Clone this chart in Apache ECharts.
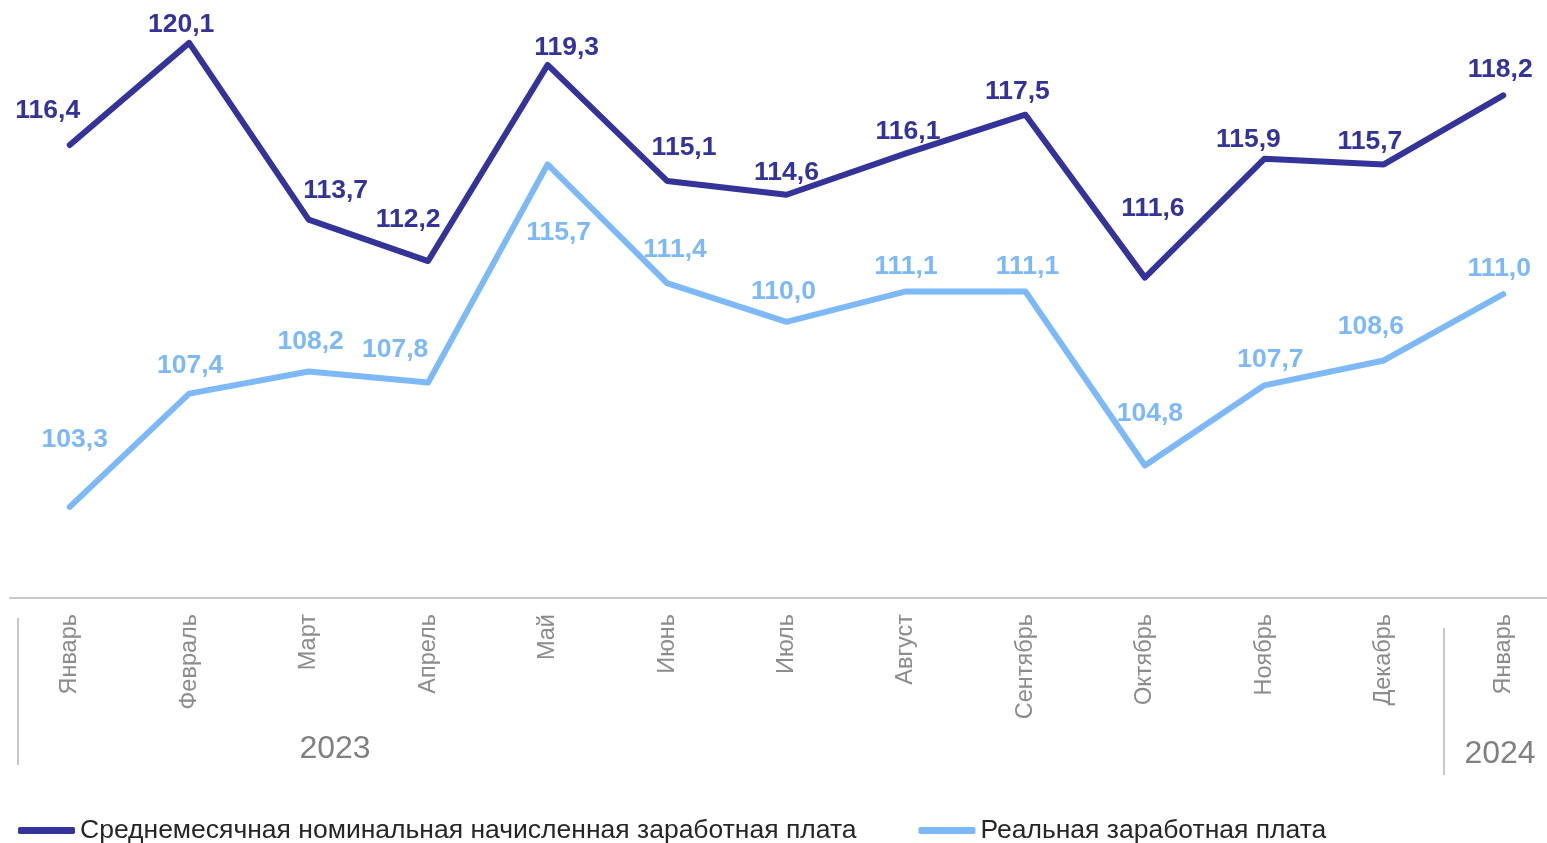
<!DOCTYPE html>
<html>
<head>
<meta charset="utf-8">
<script src="https://cdn.jsdelivr.net/npm/echarts@6/dist/echarts.min.js"></script>
<style>
  html, body { margin: 0; padding: 0; background: #fff; }
  #chart { width: 1547px; height: 843px; }
</style>
</head>
<body>
<div id="chart"></div>
<script>
(function() {
  // данные
  var months = ['Январь', 'Февраль', 'Март', 'Апрель', 'Май', 'Июнь', 'Июль',
                'Август', 'Сентябрь', 'Октябрь', 'Ноябрь', 'Декабрь', 'Январь'];
  var nominal = [116.4, 120.1, 113.7, 112.2, 119.3, 115.1, 114.6, 116.1, 117.5, 111.6, 115.9, 115.7, 118.2];
  var real = [103.3, 107.4, 108.2, 107.8, 115.7, 111.4, 110.0, 111.1, 111.1, 104.8, 107.7, 108.6, 111.0];
  var years = ['2023', '2024'];

  // сдвиги подписей (как в исходной диаграмме)
  var nominalOffsets = [[-22,-37],[-8,-21],[27,-32],[-20,-44],[19,-20],[17,-36],[0,-25],
                        [2,-25],[-8,-26],[8,-72],[-16,-22],[-14,-26],[-3,-29]];
  var realOffsets = [[5,-70],[1,-31],[2,-33],[-33,-36],[11,65],[8,-36],[-3,-33],
                     [0,-28],[2,-28],[5,-55],[6,-29],[-13,-37],[-4,-29]];

  var darkColor = '#333399';
  var lightColor = '#7db9f8';

  function withLabels(values, offsets) {
    return values.map(function(v, i) {
      return { value: v, label: { offset: [offsets[i][0], offsets[i][1] + 3] } };
    });
  }

  var myChart = echarts.init(document.getElementById('chart'));

  var option = {
    animation: false,
    textStyle: { fontFamily: 'Liberation Sans, Arial, sans-serif' },
    grid: {
      left: 10,
      width: 1553,
      top: 18,
      bottom: 245,
      outerBoundsMode: 'none',
      containLabel: false
    },
    legend: {
      left: 13,
      bottom: -6,
      itemWidth: 57,
      itemHeight: 7,
      itemGap: 62,
      icon: 'roundRect',
      textStyle: {
        fontSize: 26.5,
        color: '#262626'
      },
      data: ['Среднемесячная номинальная начисленная заработная плата', 'Реальная заработная плата']
    },
    xAxis: {
      type: 'category',
      data: months,
      boundaryGap: true,
      axisLine: { lineStyle: { color: '#c8c8c8', width: 2 } },
      axisTick: { show: false },
      axisLabel: {
        rotate: 90,
        interval: 0,
        margin: 16,
        fontSize: 23.5,
        color: '#8c8c8c'
      }
    },
    yAxis: {
      type: 'value',
      min: 100,
      max: 121,
      show: false,
      splitLine: { show: false }
    },
    graphic: [
      { type: 'line', shape: { x1: 18, y1: 618, x2: 18, y2: 765 }, style: { stroke: '#c8c8c8', lineWidth: 2 } },
      { type: 'line', shape: { x1: 1444, y1: 628, x2: 1444, y2: 775 }, style: { stroke: '#c8c8c8', lineWidth: 2 } },
      { type: 'text', x: 335, y: 749, style: { text: years[0], fill: '#808080', fontSize: 32, fontFamily: 'Liberation Sans', align: 'center', verticalAlign: 'middle' } },
      { type: 'text', x: 1500, y: 754, style: { text: years[1], fill: '#808080', fontSize: 32, fontFamily: 'Liberation Sans', align: 'center', verticalAlign: 'middle' } }
    ],
    series: [
      {
        name: 'Среднемесячная номинальная начисленная заработная плата',
        type: 'line',
        data: withLabels(nominal, nominalOffsets),
        symbol: 'circle',
        symbolSize: 0,
        showSymbol: true,
        lineStyle: { color: darkColor, width: 6, join: 'round', cap: 'round' },
        itemStyle: { color: darkColor },
        label: {
          show: true,
          position: 'inside',
          fontSize: 26.5,
          fontWeight: 'bold',
          color: darkColor,
          formatter: function(p) { return p.value.toFixed(1).replace('.', ','); }
        }
      },
      {
        name: 'Реальная заработная плата',
        type: 'line',
        data: withLabels(real, realOffsets),
        symbol: 'circle',
        symbolSize: 0,
        showSymbol: true,
        lineStyle: { color: lightColor, width: 6, join: 'round', cap: 'round' },
        itemStyle: { color: lightColor },
        label: {
          show: true,
          position: 'inside',
          fontSize: 26.5,
          fontWeight: 'bold',
          color: lightColor,
          formatter: function(p) { return p.value.toFixed(1).replace('.', ','); }
        }
      }
    ]
  };

  myChart.setOption(option);
  window.addEventListener('resize', function() {
    myChart.resize();
  });
})();
</script>
</body>
</html>
